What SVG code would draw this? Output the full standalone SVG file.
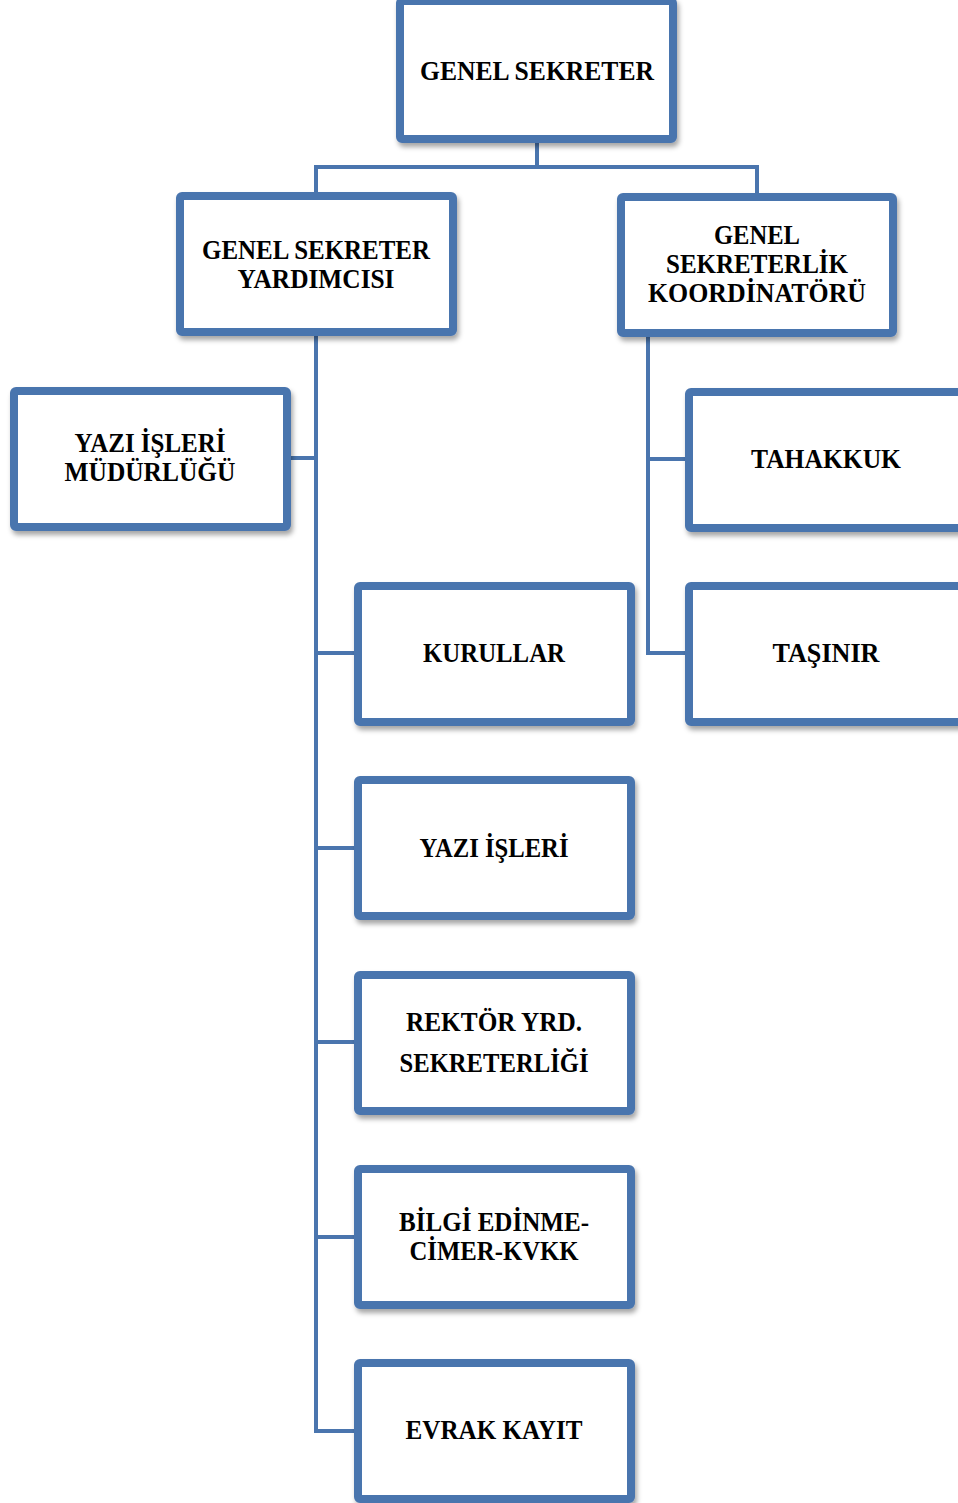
<svg xmlns="http://www.w3.org/2000/svg" width="958" height="1503" viewBox="0 0 958 1503">
<style>
.box{fill:#fff;stroke:#4A75AE;stroke-width:8;stroke-linejoin:round;filter:url(#sh)}
.ln{fill:none;stroke:#4A75AE;stroke-width:4}
text{font-family:"Liberation Serif","DejaVu Serif",serif;font-weight:bold;font-size:28px;fill:#000;text-anchor:middle}
</style>
<defs>
<filter id="sh" x="-10%" y="-10%" width="125%" height="130%">
<feDropShadow dx="2" dy="4" stdDeviation="2.5" flood-color="#000" flood-opacity="0.35"/>
</filter>
</defs>
<rect width="958" height="1503" fill="#fff"/>
<g id="connectors">
<path class="ln" d="M537,143 V167 M316,196 V167 H757 V197"/>
<path class="ln" d="M316,336 V1431 H358 M291,458 H316 M316,653 H358 M316,848 H358 M316,1042 H358 M316,1237 H358"/>
<path class="ln" d="M648,337 V653 H689 M648,459 H689"/>
</g>
<g id="n-genel-sekreter">
<rect class="box" x="400" y="1" width="273" height="138" rx="2"/>
<text x="537" y="80" textLength="234" lengthAdjust="spacingAndGlyphs">GENEL  SEKRETER</text>
</g>
<g id="n-gs-yardimcisi">
<rect class="box" x="180" y="196" width="273" height="136" rx="2"/>
<text x="316" y="259" textLength="228" lengthAdjust="spacingAndGlyphs">GENEL SEKRETER</text>
<text x="316" y="288" textLength="157" lengthAdjust="spacingAndGlyphs">YARDIMCISI</text>
</g>
<g id="n-gs-koordinatoru">
<rect class="box" x="621" y="197" width="272" height="136" rx="2"/>
<text x="757" y="244" textLength="86" lengthAdjust="spacingAndGlyphs">GENEL</text>
<text x="757" y="273" textLength="182" lengthAdjust="spacingAndGlyphs">SEKRETERLİK</text>
<text x="757" y="302" textLength="218" lengthAdjust="spacingAndGlyphs">KOORDİNATÖRÜ</text>
</g>
<g id="n-yazi-isleri-mudurlugu">
<rect class="box" x="14" y="391" width="273" height="136" rx="2"/>
<text x="150" y="452" textLength="151" lengthAdjust="spacingAndGlyphs">YAZI İŞLERİ</text>
<text x="150" y="481" textLength="171" lengthAdjust="spacingAndGlyphs">MÜDÜRLÜĞÜ</text>
</g>
<g id="n-tahakkuk">
<rect class="box" x="689" y="392" width="273" height="136" rx="2"/>
<text x="826" y="468" textLength="150" lengthAdjust="spacingAndGlyphs">TAHAKKUK</text>
</g>
<g id="n-tasinir">
<rect class="box" x="689" y="586" width="273" height="136" rx="2"/>
<text x="826" y="662" textLength="107" lengthAdjust="spacingAndGlyphs">TAŞINIR</text>
</g>
<g id="n-kurullar">
<rect class="box" x="358" y="586" width="273" height="136" rx="2"/>
<text x="494" y="662" textLength="142" lengthAdjust="spacingAndGlyphs">KURULLAR</text>
</g>
<g id="n-yazi-isleri">
<rect class="box" x="358" y="780" width="273" height="136" rx="2"/>
<text x="494" y="857" textLength="149" lengthAdjust="spacingAndGlyphs">YAZI İŞLERİ</text>
</g>
<g id="n-rektor-yrd">
<rect class="box" x="358" y="975" width="273" height="136" rx="2"/>
<text x="494" y="1031" textLength="176" lengthAdjust="spacingAndGlyphs">REKTÖR YRD.</text>
<text x="494" y="1072" textLength="189" lengthAdjust="spacingAndGlyphs">SEKRETERLİĞİ</text>
</g>
<g id="n-bilgi-edinme">
<rect class="box" x="358" y="1169" width="273" height="136" rx="2"/>
<text x="494" y="1231" textLength="190" lengthAdjust="spacingAndGlyphs">BİLGİ EDİNME-</text>
<text x="494" y="1260" textLength="169" lengthAdjust="spacingAndGlyphs">CİMER-KVKK</text>
</g>
<g id="n-evrak-kayit">
<rect class="box" x="358" y="1363" width="273" height="136" rx="2"/>
<text x="494" y="1439" textLength="177" lengthAdjust="spacingAndGlyphs">EVRAK KAYIT</text>
</g>
</svg>
